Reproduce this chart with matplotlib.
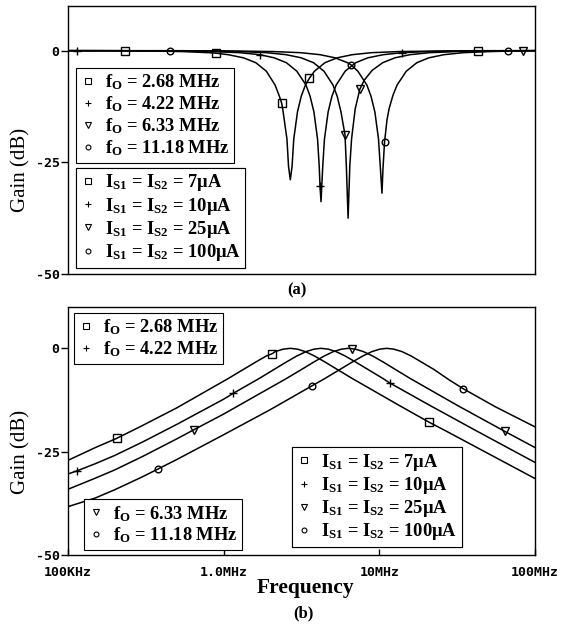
import matplotlib

matplotlib.use("Agg")
import matplotlib.pyplot as plt
from matplotlib.lines import Line2D
from matplotlib.ticker import NullLocator

# ---- (a) notch responses, frequency in MHz, gain in dB ----
notch_f0_labels = ["2.68", "4.22", "6.33", "11.18"]

f_a_7uA = [0.1, 0.234, 0.54, 0.80, 0.89, 1.07, 1.34, 1.61, 1.88, 2.14, 2.28, 2.36, 2.41,
           2.55, 2.61, 2.68, 2.75, 2.82, 2.98, 3.15, 3.35, 3.55, 3.83, 4.47, 5.36, 6.7,
           8.9, 13.4, 26.8, 43, 100]
g_a_7uA = [0, 0, -0.2, -0.45, -0.55, -0.9, -1.6, -2.7, -4.6, -7.7, -10.2, -11.8, -13.7,
           -19.8, -25.9, -28.9, -25.9, -19.8, -13.7, -10.2, -7.7, -6.2, -4.6, -2.7, -1.6,
           -0.9, -0.45, -0.2, -0.05, 0, 0]
mk_a_7uA = [0.234, 0.89, 2.36, 3.55, 43]

f_a_10uA = [0.1, 0.115, 0.422, 0.844, 1.27, 1.71, 2.11, 2.53, 2.95, 3.38, 3.59, 3.80, 4.01,
            4.11, 4.16, 4.22, 4.33, 4.44, 4.69, 4.96, 5.28, 6.03, 7.05, 8.44, 10.6, 14.0,
            21.1, 42.2, 100]
g_a_10uA = [0, 0, -0.05, -0.2, -0.45, -0.9, -1.6, -2.7, -4.6, -7.7, -10.2, -13.7, -19.8,
            -25.9, -30.4, -33.8, -25.9, -19.8, -13.7, -10.2, -7.7, -4.6, -2.7, -1.6, -0.9,
            -0.45, -0.2, -0.05, 0]
mk_a_10uA = [0.115, 1.71, 4.16, 14.0]

f_a_25uA = [0.1, 0.63, 1.26, 1.89, 2.52, 3.15, 3.78, 4.41, 5.04, 5.36, 5.67, 6.02, 6.14,
            6.3, 6.46, 6.63, 7.0, 7.5, 8.0, 9.0, 10.5, 12.6, 15.75, 21, 31.5, 63, 84, 100]
g_a_25uA = [0, -0.05, -0.2, -0.45, -0.9, -1.6, -2.7, -4.6, -7.7, -10.2, -13.7, -18.9, -25.9,
            -37.5, -25.9, -19.8, -13.0, -8.6, -6.6, -4.4, -2.7, -1.6, -0.9, -0.45, -0.2,
            -0.05, 0, 0]
mk_a_25uA = [6.02, 7.5, 84]

f_a_100uA = [0.1, 0.455, 1.04, 2.08, 3.12, 4.16, 5.2, 6.24, 6.54, 7.28, 8.32, 8.84, 9.36,
             9.88, 10.14, 10.4, 10.55, 10.8, 11.2, 11.55, 12.23, 13.0, 14.9, 17.4, 20.8,
             26, 34.6, 52, 66.7, 100]
g_a_100uA = [0, 0, -0.05, -0.2, -0.45, -0.9, -1.6, -2.7, -3.1, -4.6, -7.7, -10.2, -13.7,
             -19.8, -25.9, -31.9, -26.5, -20.5, -15.5, -13.0, -10.0, -7.7, -4.6, -2.7, -1.6,
             -0.9, -0.45, -0.2, -0.1, 0]
mk_a_100uA = [0.455, 6.54, 10.8, 66.7]

# ---- (b) band-pass responses ----
f_b_7uA = [0.1, 0.15, 0.205, 0.3, 0.5, 1.07, 1.34, 1.61, 1.88, 2.05, 2.14, 2.41, 2.68,
           2.98, 3.35, 3.83, 4.47, 5.36, 6.7, 13.4, 20.7, 26.8, 100]
g_b_7uA = [-27.1, -24.0, -21.8, -18.7, -14.4, -7.3, -5.1, -3.3, -1.85, -1.3, -0.8, -0.2, 0,
           -0.2, -0.8, -1.85, -3.3, -5.1, -7.3, -13.8, -17.8, -20.0, -31.5]
mk_b_7uA = [0.205, 2.05, 20.7]

f_b_10uA = [0.1, 0.115, 0.15, 0.2, 0.3, 0.5, 1.0, 1.15, 1.69, 2.11, 2.53, 2.95, 3.38, 3.80,
            4.22, 4.69, 5.28, 6.03, 7.03, 8.44, 10.55, 11.7, 21.1, 42.2, 100]
g_b_10uA = [-30.4, -29.6, -27.9, -25.9, -22.7, -18.4, -12.3, -10.9, -7.3, -5.1, -3.3, -1.85,
            -0.8, -0.2, 0, -0.2, -0.8, -1.85, -3.3, -5.1, -7.3, -8.4, -13.8, -20.0, -27.6]
mk_b_10uA = [0.115, 1.15, 11.7]

f_b_25uA = [0.1, 0.15, 0.2, 0.3, 0.5, 0.643, 1.0, 2.53, 3.17, 3.80, 4.43, 5.06, 5.70, 6.33,
            6.68, 7.03, 7.91, 9.05, 10.57, 12.66, 15.8, 31.7, 64, 100]
g_b_25uA = [-34.1, -31.4, -29.4, -26.2, -21.9, -19.7, -15.9, -7.3, -5.1, -3.3, -1.85, -0.8,
            -0.2, 0, -0.1, -0.2, -0.8, -1.85, -3.3, -5.1, -7.3, -13.8, -20.1, -24.0]
mk_b_25uA = [0.643, 6.68, 64]

f_b_100uA = [0.1, 0.15, 0.2, 0.3, 0.378, 0.5, 1.0, 2.0, 3.68, 4.47, 5.59, 6.71, 7.83, 8.94,
             10.06, 11.18, 12.4, 14.0, 16.0, 18.6, 22.4, 28.0, 34.7, 56, 100]
g_b_100uA = [-38.3, -36.2, -34.2, -31.1, -29.2, -26.9, -20.9, -14.8, -9.1, -7.3, -5.1, -3.3,
             -1.85, -0.8, -0.2, 0, -0.2, -0.8, -1.85, -3.3, -5.1, -7.6, -9.8, -14.2, -19.0]
mk_b_100uA = [0.378, 3.68, 34.7]

currents = ["7", "10", "25", "100"]
markers = ["s", "+", "v", "o"]
xtick_vals = [0.1, 1, 10, 100]
xtick_labels = ["100KHz", "1.0MHz", "10MHz", "100MHz"]
ytick_vals = [-50, -25, 0]

plt.rcParams["font.family"] = "Liberation Serif"
plt.rcParams["font.weight"] = "bold"
plt.rcParams["mathtext.fontset"] = "custom"
plt.rcParams["mathtext.rm"] = "Liberation Serif:bold"
plt.rcParams["mathtext.it"] = "Liberation Serif:bold"
plt.rcParams["mathtext.bf"] = "Liberation Serif:bold"

W, H = 563, 626
fig = plt.figure(figsize=(W / 100, H / 100), dpi=100)
ax_a = fig.add_axes([68 / W, 1 - 274 / H, 467 / W, 268 / H])
ax_b = fig.add_axes([68 / W, 1 - 555 / H, 467 / W, 248 / H])

mono = dict(family="DejaVu Sans Mono", weight="bold", size=9.5)


def draw_curve(ax, f, g, mk_f, marker):
    idx = [f.index(m) for m in mk_f]
    ax.plot(f, g, color="black", lw=1.1, marker=marker, markevery=idx,
            ms=5.5 if marker != "o" else 4.8, mfc="none", mec="black", mew=1.0)


def style(ax, show_x):
    ax.set_xscale("log")
    ax.set_xlim(0.1, 100)
    ax.set_ylim(-50, 10)
    ax.xaxis.set_minor_locator(NullLocator())
    ax.set_yticks(ytick_vals)
    ax.set_yticklabels([str(v) for v in ytick_vals], fontdict=mono)
    ax.tick_params(axis="y", direction="out", length=5, width=1, pad=1)
    if show_x:
        ax.set_xticks(xtick_vals)
        ax.set_xticklabels(xtick_labels, fontdict=mono)
        ax.tick_params(axis="x", direction="in", length=4, width=1, pad=8)
    else:
        ax.set_xticks([])
    for sp in ax.spines.values():
        sp.set_linewidth(1.0)


def make_legend(ax, labels, marks, anchor, loc, fs=13.3):
    handles = [Line2D([], [], ls="none", marker=m, ms=4 if m != "o" else 3.5,
                      mfc="none", mec="black", mew=0.8) for m in marks]
    leg = ax.legend(handles, labels, loc=loc, bbox_to_anchor=anchor, frameon=True,
                    fancybox=False, edgecolor="black", framealpha=1, borderpad=0.25,
                    handlelength=0.8, handletextpad=0.5, labelspacing=0.12,
                    borderaxespad=0, fontsize=fs)
    leg.get_frame().set_linewidth(0.8)
    ax.add_artist(leg)
    return leg


# panel (a)
draw_curve(ax_a, f_a_7uA, g_a_7uA, mk_a_7uA, "s")
draw_curve(ax_a, f_a_10uA, g_a_10uA, mk_a_10uA, "+")
draw_curve(ax_a, f_a_25uA, g_a_25uA, mk_a_25uA, "v")
draw_curve(ax_a, f_a_100uA, g_a_100uA, mk_a_100uA, "o")
style(ax_a, False)

f0_labels = [r"f$_\mathrm{O}$ = " + v + " MHz" for v in notch_f0_labels]
i_labels = [r"I$_\mathrm{S1}$ = I$_\mathrm{S2}$ = " + c + "µA" for c in currents]
make_legend(ax_a, f0_labels, markers, (0.017, 0.769), "upper left")
make_legend(ax_a, i_labels, markers, (0.017, 0.396), "upper left")
ax_a.set_ylabel("Gain (dB)", fontsize=15)
ax_a.yaxis.set_label_coords(-0.08, 0.39)

# panel (b)
draw_curve(ax_b, f_b_7uA, g_b_7uA, mk_b_7uA, "s")
draw_curve(ax_b, f_b_10uA, g_b_10uA, mk_b_10uA, "+")
draw_curve(ax_b, f_b_25uA, g_b_25uA, mk_b_25uA, "v")
draw_curve(ax_b, f_b_100uA, g_b_100uA, mk_b_100uA, "o")
style(ax_b, True)

make_legend(ax_b, f0_labels[:2], markers[:2], (0.013, 0.976), "upper left")
make_legend(ax_b, f0_labels[2:], markers[2:], (0.034, 0.02), "lower left")
make_legend(ax_b, i_labels, markers, (0.48, 0.032), "lower left")
ax_b.set_ylabel("Gain (dB)", fontsize=15)
ax_b.yaxis.set_label_coords(-0.08, 0.417)

fig.text(297 / W, 1 - 290 / H, "(a)", ha="center", va="center", fontsize=12)
fig.text(305 / W, 1 - 588 / H, "Frequency", ha="center", va="center", fontsize=15.5)
fig.text(303 / W, 1 - 613 / H, "(b)", ha="center", va="center", fontsize=12)

fig.savefig("out.png", dpi=100)
